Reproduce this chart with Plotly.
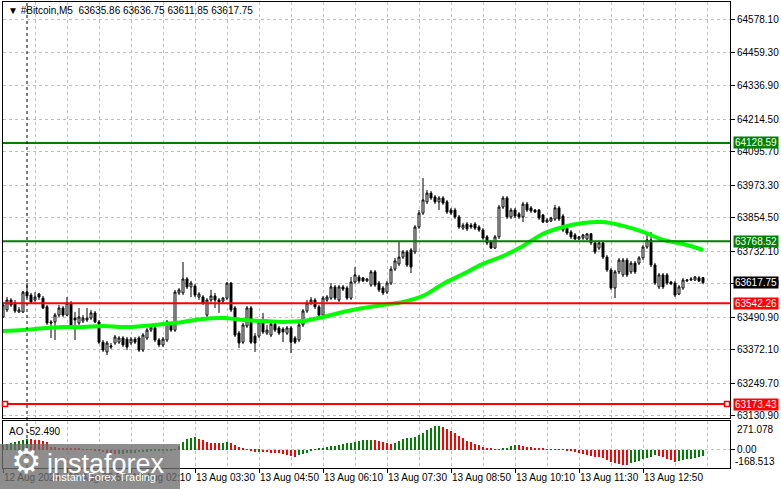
import plotly.graph_objects as go
import pandas as pd

# --- data (BTC M5, 12 Aug 23:30 .. 13 Aug 14:05) ---
opens = [63492, 63518, 63554, 63543, 63510, 63510, 63583, 63572, 63554, 63576,
         63561, 63529, 63474, 63474, 63499, 63525, 63499, 63543, 63488, 63470,
         63477, 63481, 63488, 63507, 63474, 63400, 63364, 63382, 63397, 63400,
         63415, 63411, 63397, 63411, 63415, 63371, 63415, 63444, 63452, 63408,
         63390, 63408, 63463, 63444, 63580, 63580, 63631, 63602, 63605, 63565,
         63565, 63499, 63554, 63569, 63554, 63550, 63561, 63616, 63525, 63433,
         63400, 63459, 63525, 63422, 63422, 63474, 63433, 63426, 63466, 63452,
         63448, 63433, 63452, 63415, 63408, 63463, 63514, 63543, 63554, 63529,
         63499, 63554, 63561, 63602, 63554, 63602, 63598, 63561, 63620, 63638,
         63635, 63624, 63609, 63657, 63616, 63598, 63583, 63616, 63667, 63686,
         63711, 63730, 63737, 63730, 63821, 63872, 63913, 63945, 63931, 63913,
         63927, 63913, 63883, 63883, 63858, 63817, 63832, 63828, 63832, 63821,
         63810, 63785, 63766, 63744, 63785, 63894, 63927, 63858, 63883, 63869,
         63858, 63905, 63891, 63883, 63883, 63865, 63839, 63843, 63850, 63891,
         63861, 63817, 63803, 63792, 63777, 63781, 63777, 63796, 63763, 63744,
         63763, 63711, 63664, 63598, 63657, 63646, 63700, 63657, 63689, 63689,
         63708, 63748, 63774, 63682, 63602, 63646, 63646, 63620, 63616, 63576,
         63598, 63624, 63627, 63627, 63635, 63635.86]
highs = [63547, 63565, 63561, 63554, 63529, 63587, 63616, 63580, 63583, 63580,
         63569, 63536, 63481, 63507, 63536, 63532, 63565, 63550, 63510, 63525,
         63499, 63525, 63518, 63514, 63481, 63408, 63404, 63397, 63426, 63422,
         63422, 63419, 63419, 63419, 63422, 63433, 63452, 63466, 63459, 63415,
         63419, 63481, 63470, 63591, 63598, 63693, 63638, 63624, 63613, 63583,
         63572, 63561, 63591, 63580, 63561, 63565, 63620, 63620, 63532, 63441,
         63470, 63532, 63532, 63433, 63481, 63507, 63463, 63474, 63474, 63459,
         63455, 63459, 63459, 63422, 63470, 63521, 63554, 63565, 63561, 63536,
         63569, 63572, 63616, 63609, 63609, 63609, 63605, 63638, 63675, 63646,
         63638, 63635, 63664, 63664, 63624, 63605, 63624, 63678, 63708, 63766,
         63737, 63737, 63744, 63828, 63883, 64000, 63956, 63953, 63938, 63934,
         63934, 63920, 63891, 63891, 63865, 63836, 63839, 63836, 63839, 63828,
         63817, 63792, 63774, 63792, 63902, 63934, 63934, 63891, 63891, 63876,
         63913, 63913, 63898, 63887, 63887, 63869, 63854, 63858, 63902, 63898,
         63869, 63821, 63810, 63799, 63788, 63796, 63799, 63799, 63770, 63770,
         63770, 63719, 63671, 63664, 63708, 63708, 63708, 63697, 63697, 63715,
         63755, 63803, 63803, 63689, 63653, 63653, 63653, 63624, 63624, 63609,
         63635, 63631, 63638, 63642, 63642, 63636.75]
lows = [63488, 63510, 63529, 63507, 63507, 63507, 63561, 63540, 63547, 63554,
        63521, 63463, 63415, 63408, 63492, 63492, 63496, 63455, 63408, 63463,
        63470, 63474, 63481, 63470, 63393, 63364, 63353, 63375, 63390, 63393,
        63382, 63371, 63390, 63393, 63364, 63364, 63408, 63437, 63400, 63382,
        63382, 63400, 63437, 63437, 63572, 63572, 63594, 63565, 63565, 63554,
        63536, 63492, 63543, 63525, 63507, 63543, 63554, 63510, 63419, 63379,
        63393, 63452, 63393, 63364, 63415, 63430, 63426, 63419, 63437, 63426,
        63400, 63426, 63360, 63393, 63400, 63455, 63507, 63536, 63521, 63492,
        63492, 63547, 63554, 63554, 63547, 63587, 63554, 63554, 63613, 63616,
        63620, 63620, 63602, 63602, 63583, 63572, 63576, 63609, 63660, 63678,
        63704, 63675, 63653, 63722, 63814, 63865, 63905, 63920, 63905, 63883,
        63902, 63869, 63865, 63850, 63814, 63810, 63806, 63814, 63810, 63803,
        63774, 63755, 63741, 63741, 63777, 63887, 63850, 63850, 63854, 63850,
        63839, 63876, 63872, 63872, 63847, 63836, 63836, 63839, 63843, 63843,
        63803, 63792, 63777, 63774, 63774, 63774, 63774, 63755, 63722, 63737,
        63704, 63657, 63591, 63561, 63649, 63638, 63638, 63649, 63649, 63682,
        63700, 63741, 63675, 63609, 63594, 63594, 63609, 63609, 63565, 63572,
        63591, 63620, 63624, 63624, 63620, 63611.85]
closes = [63536, 63554, 63536, 63514, 63518, 63583, 63569, 63547, 63565, 63565,
          63525, 63470, 63470, 63499, 63525, 63499, 63543, 63463, 63481, 63492,
          63488, 63488, 63507, 63474, 63400, 63371, 63397, 63386, 63419, 63415,
          63390, 63382, 63411, 63400, 63371, 63426, 63444, 63455, 63408, 63390,
          63411, 63474, 63444, 63583, 63591, 63631, 63602, 63616, 63572, 63576,
          63543, 63554, 63569, 63554, 63547, 63561, 63616, 63518, 63426, 63397,
          63463, 63525, 63400, 63397, 63474, 63437, 63444, 63466, 63444, 63433,
          63437, 63452, 63400, 63400, 63463, 63514, 63543, 63554, 63529, 63499,
          63561, 63565, 63602, 63561, 63602, 63594, 63561, 63620, 63646, 63624,
          63624, 63631, 63657, 63609, 63591, 63580, 63616, 63667, 63697, 63711,
          63730, 63682, 63675, 63821, 63872, 63920, 63945, 63927, 63913, 63927,
          63909, 63876, 63872, 63858, 63821, 63828, 63814, 63821, 63817, 63810,
          63781, 63763, 63744, 63785, 63894, 63927, 63858, 63883, 63861, 63858,
          63905, 63883, 63880, 63876, 63854, 63839, 63847, 63854, 63891, 63850,
          63810, 63799, 63785, 63777, 63785, 63792, 63796, 63763, 63730, 63763,
          63711, 63664, 63598, 63657, 63700, 63700, 63646, 63689, 63657, 63708,
          63748, 63774, 63682, 63616, 63646, 63602, 63616, 63613, 63572, 63602,
          63627, 63627, 63631, 63638, 63624, 63617.75]

# moving average, sampled every 5 candles
ma_idx = list(range(0, 176, 5))
ma_vals = [63441, 63444, 63451, 63455, 63455, 63459, 63455, 63459, 63466, 63474,
           63485, 63488, 63481, 63477, 63474, 63477, 63492, 63510, 63525, 63536,
           63547, 63569, 63613, 63649, 63686, 63715, 63752, 63796, 63821, 63836,
           63839, 63825, 63803, 63774, 63759, 63737]

# Awesome Oscillator
ao = [46.8, 56.1, 60.8, 70.1, 79.5, 88.8, 102.9, 100.0, 96.3, 93.5,
      84.2, 70.1, 28.1, 23.4, 21.5, 18.7, 15.9, 14.0, 11.2, 9.4,
      7.5, 4.7, 1.9, -4.7, -14.0, -23.4, -32.7, -39.3, -42.1, -39.3,
      -35.5, -32.7, -29.9, -26.2, -23.4, -20.6, -16.8, -14.0, -11.2, -9.4,
      -6.5, -3.7, -1.9, 7.5, 40.2, 72.0, 100.0, 112.2, 118.7, 102.9,
      93.5, 77.6, 68.3, 65.5, 62.6, 68.3, 72.0, 65.5, 49.6, 30.9,
      15.9, 0.5, -9.4, -15.9, -15.0, -21.5, -22.0, -25.2, -28.1, -30.0,
      -37.4, -43.9, -56.1, -62.6, -49.6, -37.4, -25.2, -12.2, 6.5, 9.4,
      15.9, 25.2, 34.6, 40.2, 49.6, 56.1, 62.6, 68.3, 77.6, 84.2,
      90.7, 93.5, 96.3, 90.7, 81.3, 72.0, 62.6, 56.1, 68.3, 83.2,
      100.0, 109.4, 115.0, 124.4, 140.3, 161.8, 187.0, 208.5, 221.6, 224.4,
      212.2, 193.5, 180.5, 156.1, 130.9, 109.4, 87.0, 72.0, 56.1, 43.9,
      30.9, 21.5, 9.4, 2.8, 1.5, 12.2, 21.5, 37.4, 46.8, 45.5,
      37.4, 30.9, 25.2, 21.5, 18.7, 12.2, 3.0, 1.5, 0.8, 0.5,
      0.3, -0.5, -8.0, -18.0, -28.0, -37.0, -45.0, -53.0, -62.6, -68.3,
      -77.6, -93.5, -109.4, -118.7, -130.9, -137.4, -140.3, -124.4, -112.2, -100.0,
      -87.0, -72.0, -62.6, -49.6, -56.1, -68.3, -81.3, -93.5, -109.4, -102.9,
      -93.5, -87.0, -81.3, -72.0, -62.6, -52.49]

price_ticks = [64578.10, 64459.30, 64336.90, 64214.50, 64095.70, 63973.30, 63854.50,
               63732.10, 63613.30, 63490.90, 63372.10, 63249.70, 63130.90]
time_ticks = ["2024-08-12 23:30", "2024-08-13 00:50", "2024-08-13 02:10", "2024-08-13 03:30",
              "2024-08-13 04:50", "2024-08-13 06:10", "2024-08-13 07:30", "2024-08-13 08:50",
              "2024-08-13 10:10", "2024-08-13 11:30", "2024-08-13 12:50"]
time_labels = ["12 Aug 2024", "13 Aug 00:50", "13 Aug 02:10", "13 Aug 03:30",
               "13 Aug 04:50", "13 Aug 06:10", "13 Aug 07:30", "13 Aug 08:50",
               "13 Aug 10:10", "13 Aug 11:30", "13 Aug 12:50"]

support_levels = [63542.26, 63173.43]
resist_levels = [64128.59, 63768.52]
last_price = 63617.75

times = pd.date_range("2024-08-12 23:30", periods=len(closes), freq="5min")
ma_times = [times[i] for i in ma_idx]

FONT = "Liberation Sans, Arial, sans-serif"
GRID = "#c0c0c0"
DARKGREEN = "#008000"

fig = go.Figure()

fig.add_trace(go.Candlestick(
    x=times, open=opens, high=highs, low=lows, close=closes,
    increasing=dict(line=dict(color="black", width=1), fillcolor="white"),
    decreasing=dict(line=dict(color="black", width=1), fillcolor="black"),
    whiskerwidth=0, xaxis="x", yaxis="y", hoverinfo="skip"
))

fig.add_trace(go.Scatter(
    x=ma_times, y=ma_vals, mode="lines",
    line=dict(color="#00ff00", width=4, shape="spline"),
    xaxis="x", yaxis="y", hoverinfo="skip"
))

ao_colors = []
for i, v in enumerate(ao):
    if i == 0 or v >= ao[i - 1]:
        ao_colors.append(DARKGREEN)
    else:
        ao_colors.append("#ff0000")

fig.add_trace(go.Bar(
    x=times, y=ao, width=70000, marker=dict(color=ao_colors, line=dict(width=0)),
    xaxis="x2", yaxis="y2", hoverinfo="skip"
))

h_total = 489 - 2 - 21

shapes = []
for lv in resist_levels:
    shapes.append(dict(type="line", xref="paper", x0=0, x1=1, yref="y", y0=lv, y1=lv,
                       line=dict(color=DARKGREEN, width=2), layer="above"))
for lv in support_levels:
    shapes.append(dict(type="line", xref="paper", x0=0, x1=1, yref="y", y0=lv, y1=lv,
                       line=dict(color="#ff0000", width=2), layer="above"))
# small squares at the ends of the lower red line
for xa in [2 / 727, 724 / 727]:
    shapes.append(dict(type="rect", xref="paper", xsizemode="pixel", xanchor=xa,
                       x0=-2.5, x1=2.5, yref="y", ysizemode="pixel",
                       yanchor=support_levels[1], y0=-2.5, y1=2.5,
                       line=dict(color="#ff0000", width=1.5), fillcolor="white",
                       layer="above"))
# period separator (day start)
shapes.append(dict(type="line", xref="x", x0="2024-08-13 00:00", x1="2024-08-13 00:00",
                   yref="paper", y0=0, y1=1,
                   line=dict(color="black", width=1, dash="3px,3px"), layer="above"))
# watermark box
shapes.append(dict(type="rect", xref="paper", yref="paper",
                   x0=-3 / 727, x1=177 / 727, y0=-21 / h_total, y1=(468 - 444) / h_total,
                   fillcolor="rgba(110,110,110,0.78)", line=dict(width=0), layer="above"))

annotations = [
    dict(text="▼ #Bitcoin,M5  63635.86 63636.75 63611.85 63617.75",
         xref="paper", yref="paper", x=0, y=1, xanchor="left", yanchor="top",
         xshift=3, yshift=-1, showarrow=False, font=dict(family=FONT, size=10, color="black")),
    dict(text="AO -52.490", xref="paper", yref="paper", x=0, y=(468 - 431) / h_total,
         xanchor="left", yanchor="middle", xshift=4, showarrow=False,
         font=dict(family=FONT, size=10, color="black")),
    dict(text="271.078", xref="paper", yref="paper", x=1, y=(468 - 429) / h_total,
         xanchor="left", yanchor="middle", xshift=5, showarrow=False,
         font=dict(family=FONT, size=10, color="black")),
    dict(text="-168.513", xref="paper", yref="paper", x=1, y=(468 - 461.5) / h_total,
         xanchor="left", yanchor="middle", xshift=3, showarrow=False,
         font=dict(family=FONT, size=10, color="black")),
    dict(text="⚙", xref="paper", yref="paper", x=6 / 727, y=-21 / h_total,
         xanchor="left", yanchor="bottom", yshift=6, showarrow=False,
         font=dict(family="DejaVu Sans", size=34, color="white")),
    dict(text="instaforex", xref="paper", yref="paper", x=42 / 727, y=(468 - 447) / h_total,
         xanchor="left", yanchor="top", showarrow=False,
         font=dict(family=FONT, size=27, color="white")),
    dict(text="Instant Forex Trading", xref="paper", yref="paper", x=47 / 727, y=-21 / h_total,
         xanchor="left", yanchor="bottom", yshift=4, showarrow=False,
         font=dict(family=FONT, size=11, color="white")),
]

price_boxes = [(resist_levels[0], DARKGREEN), (resist_levels[1], DARKGREEN),
               (last_price, "black"), (support_levels[0], "#ff0000"),
               (support_levels[1], "#ff0000")]
for val, col in price_boxes:
    annotations.append(dict(text=f"{val:.2f}", xref="paper", yref="y", x=1, y=val,
                            xanchor="left", yanchor="middle", xshift=3, showarrow=False,
                            bgcolor=col, width=44, height=11, borderpad=0,
                            font=dict(family=FONT, size=10, color="white")))

grid_common = dict(showgrid=True, gridcolor=GRID, griddash="3px,3px", gridwidth=1)
minor_x = dict(tick0="2024-08-13 00:10", dtick=40 * 60 * 1000, showgrid=True,
               gridcolor=GRID, griddash="3px,3px", ticks="")

fig.update_layout(
    width=781, height=489,
    margin=dict(l=3, r=51, t=2, b=21),
    paper_bgcolor="white", plot_bgcolor="white",
    showlegend=False, hovermode=False,
    font=dict(family=FONT, size=10, color="black"),
    xaxis=dict(type="date", range=["2024-08-12 23:30", "2024-08-13 14:38:45"],
               domain=[0, 1], anchor="y", tickmode="array", tickvals=time_ticks,
               showticklabels=False, ticks="", minor=minor_x,
               showline=True, mirror=True, linecolor="black", linewidth=1,
               rangeslider=dict(visible=False), **grid_common),
    xaxis2=dict(type="date", matches="x", domain=[0, 1], anchor="y2",
                tickmode="array", tickvals=time_ticks, ticktext=time_labels,
                ticks="outside", ticklen=4, tickcolor="black", tickangle=0,
                ticklabelposition="outside right", minor=minor_x,
                showline=True, mirror=True, linecolor="black", linewidth=1,
                tickfont=dict(family=FONT, size=10, color="black"), **grid_common),
    yaxis=dict(domain=[50 / h_total, 1], range=[63122.6, 64643.9], anchor="x",
               side="right", tickmode="array", tickvals=price_ticks,
               ticktext=[f"{v:.2f}" for v in price_ticks],
               ticks="outside", ticklen=4, tickcolor="black", zeroline=False,
               showline=True, mirror=True, linecolor="black", linewidth=1,
               tickfont=dict(family=FONT, size=10, color="black"), **grid_common),
    yaxis2=dict(domain=[0, 47 / h_total], range=[-168.513, 271.078], anchor="x2",
                side="right", tickmode="array", tickvals=[0], ticktext=["0.00"],
                ticks="outside", ticklen=4, tickcolor="black", zeroline=False,
                showline=True, mirror=True, linecolor="black", linewidth=1,
                tickfont=dict(family=FONT, size=10, color="black"), **grid_common),
    shapes=shapes,
    annotations=annotations,
    bargap=0,
)

fig.write_html("out.html", config={"displayModeBar": False},
               post_script="document.body.style.margin='0';document.body.style.overflow='hidden';")
